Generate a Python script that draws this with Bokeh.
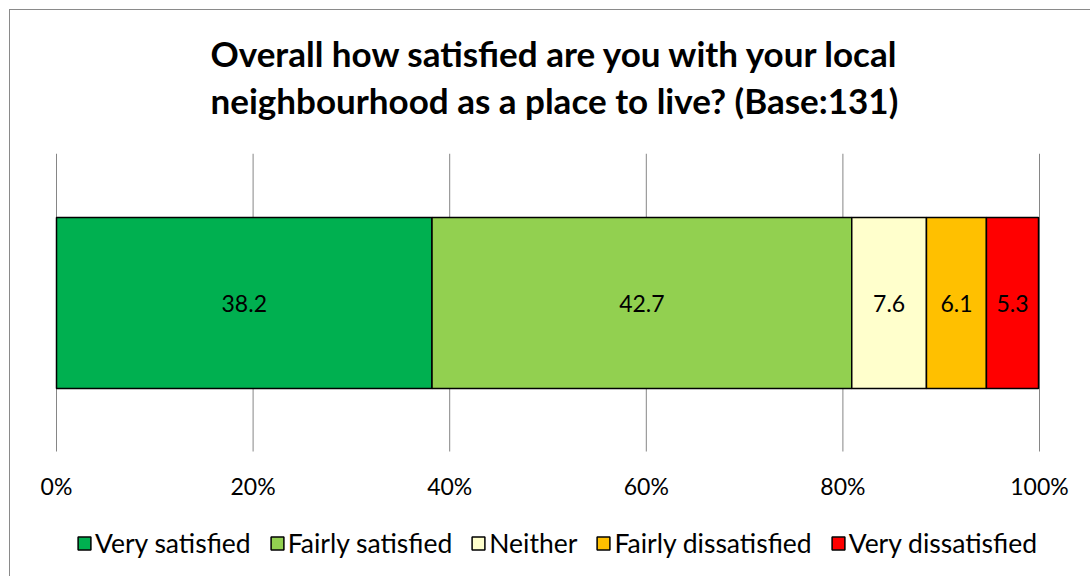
from bokeh.plotting import figure
from bokeh.models import (Range1d, FixedTicker, Legend, LegendItem, Title, ColumnDataSource)
from bokeh.core.properties import value
from bokeh.embed import file_html
from bokeh.resources import INLINE

# ---- data ----
categories = ["Very satisfied", "Fairly satisfied", "Neither", "Fairly dissatisfied", "Very dissatisfied"]
values = [38.2, 42.7, 7.6, 6.1, 5.3]
colors = ["#00B050", "#92D050", "#FFFFCC", "#FFC000", "#FF0000"]
tick_values = [0, 20, 40, 60, 80, 100]
tick_labels = ["0%", "20%", "40%", "60%", "80%", "100%"]
title_lines = ["Overall how satisfied are you with your local",
               "neighbourhood as a place to live? (Base:131)"]

FONT = "Lato"

# layout constants (vertical scale in pixels, measured from bottom of the frame)
FRAME_H = 423
GRID_Y0, GRID_Y1 = 125, 423
BAR_Y, BAR_H = 273.5, 171
# horizontal: 0% at 36 px and 100% at 1019 px inside a 1065 px wide frame
FRAME_W = 1065
PX_PER_UNIT = 983 / 100
X_START = -36 / PX_PER_UNIT
X_END = X_START + FRAME_W / PX_PER_UNIT

lefts, rights, mids = [], [], []
acc = 0.0
for v in values:
    lefts.append(acc)
    rights.append(acc + v)
    mids.append(acc + v / 2)
    acc += v

p = figure(frame_width=FRAME_W, frame_height=FRAME_H, output_backend="svg", toolbar_location=None,
           x_range=Range1d(X_START, X_END), y_range=Range1d(0, FRAME_H),
           min_border_left=10, min_border_right=5, min_border_top=143, min_border_bottom=0,
           background_fill_color="white", border_fill_color="white", outline_line_color=None)
p.margin = (9, 0, 0, 9)
p.styles = {"border-left": "1px solid #8a8a8a", "border-top": "1px solid #8a8a8a"}

p.xgrid.grid_line_color = None
p.ygrid.grid_line_color = None

# vertical gridlines
p.segment(x0=tick_values, y0=[GRID_Y0] * len(tick_values), x1=tick_values,
          y1=[GRID_Y1] * len(tick_values), line_color="#868686", line_width=1)

# axes
p.yaxis.visible = False
xa = p.xaxis[0]
xa.fixed_location = GRID_Y0
xa.ticker = FixedTicker(ticks=tick_values)
xa.major_label_overrides = {t: l for t, l in zip(tick_values, tick_labels)}
xa.axis_line_color = None
xa.major_tick_line_color = None
xa.minor_tick_line_color = None
xa.major_label_standoff = 14
xa.major_label_text_font = FONT
xa.major_label_text_font_size = "23px"
xa.major_label_text_color = "#000000"

renderers = []
for i, cat in enumerate(categories):
    src = ColumnDataSource(dict(left=[lefts[i]], right=[rights[i]], y=[BAR_Y]))
    r = p.hbar(y="y", left="left", right="right", height=BAR_H, source=src,
               fill_color=colors[i], line_color="#000000", line_width=1.5)
    renderers.append(r)

lbl_src = ColumnDataSource(dict(x=mids, y=[BAR_Y] * len(mids), t=[f"{v:.1f}" for v in values]))
p.text(x="x", y="y", text="t", source=lbl_src, text_align="center", text_baseline="middle",
       text_font=value(FONT), text_font_size="23px", text_color="#000000")

legend = Legend(items=[LegendItem(label=c, renderers=[r]) for c, r in zip(categories, renderers)],
                orientation="horizontal", location=(56, 17),
                label_text_font=FONT, label_text_font_size="26.5px", label_text_color="#000000",
                glyph_width=16, glyph_height=16, label_standoff=3, spacing=18,
                padding=0, margin=0, border_line_color=None, background_fill_alpha=0)
p.add_layout(legend, "center")

# spacer between frame and title lines, then the two title lines
p.add_layout(Title(text=" ", text_font_size="1px", standoff=29), "above")
for line, so in reversed(list(zip(title_lines, [4, 2]))):
    p.add_layout(Title(text=line, align="left", text_font=FONT, text_font_size="35px",
                       text_font_style="bold", text_color="#000000", standoff=so, offset=190), "above")

open("out.html", "w").write(file_html(p, INLINE))
